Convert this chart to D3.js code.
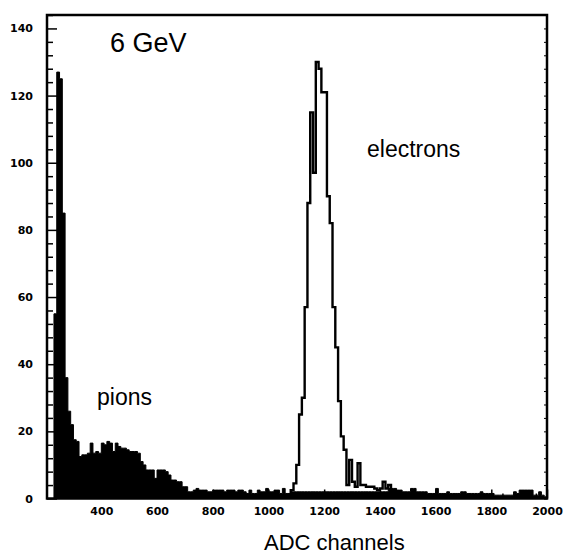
<!DOCTYPE html>
<html><head><meta charset="utf-8">
<script src="https://cdn.jsdelivr.net/npm/d3@7"></script>
<style>body{margin:0;background:#fff}svg{display:block}</style>
</head><body>
<svg id="c" width="566" height="557"></svg>
<script>
// ---- data ----
const binWidth = 10;            // ADC channels per bin
const pionStart = 210;          // first bin lower edge
const pionCounts = [
  0, 0, 55, 127, 125, 85, 36, 26, 22,
  17.5, 17, 12.5, 13, 13, 13.5, 16.5, 13.5, 14, 13.5,
  16.5, 16, 17, 16.5, 14, 16.5, 15.5, 15, 15, 14.5,
  14, 14, 14, 13.5, 11, 10, 8.5, 8.5, 8.5, 6,
  8.5, 8.5, 8.5, 8, 7, 5.5, 5.5, 5, 5, 3.5,
  3.5, 2, 2, 2.5, 3, 2.5, 2.5, 2.5, 2, 2,
  2.5, 2.5, 2.5, 2.5, 2, 2.5, 2.5, 2.5, 2, 2.5,
  2.5, 2, 1.5, 2.5, 1.5, 1.5, 2.5, 2, 2, 3,
  2, 2, 2.5, 2.5, 1.5, 3, 1.5, 1.5, 2, 2,
  2, 2, 2, 2, 2, 2, 2, 2, 2, 2,
  2, 2, 2, 2, 2, 2, 2, 2, 2, 2,
  2, 2, 2, 2, 2, 2, 2, 2, 2, 2,
  2, 2, 2, 3, 3, 3, 2.5, 2.5, 2, 2,
  2, 3, 3, 2, 2, 2, 2, 1.5, 1.5, 1.5,
  3, 1.5, 1.5, 1.5, 2, 1.5, 1.5, 1.5, 1.5, 2,
  2, 1.5, 1.5, 1.5, 1.5, 1.5, 2, 1.5, 1.5, 1.5,
  1.5, 1, 1, 1, 1, 1, 1, 1, 2, 1.5,
  2.5, 2.5, 2.5, 2.5, 2.5, 1, 1, 2, 1, 0.5
];
const electronStart = 1080;
const electronCounts = [
  2.5, 4.5, 10, 25, 30, 57, 88, 115, 97, 130,
  128, 121, 121, 90, 82, 57, 45, 29, 18.5, 14.5,
  4, 11.5, 5, 3.5, 10.5, 4, 4, 3.5, 3.5, 3.5,
  3, 2.5, 3, 5, 3, 4
];
const xDomain = [205, 2000];
const yDomain = [0, 144];
const xTicks = [400, 600, 800, 1000, 1200, 1400, 1600, 1800, 2000];
const xMinorStep = 40;
const yTicks = [0, 20, 40, 60, 80, 100, 120, 140];
const yMinorStep = 4;
const labels = {title: "6 GeV", pions: "pions", electrons: "electrons", xAxis: "ADC channels"};

// ---- drawing ----
const svg = d3.select("#c");
const L = 47, R = 547, T = 15, B = 498.5;
const x = d3.scaleLinear().domain(xDomain).range([L, R]);
const y = d3.scaleLinear().domain(yDomain).range([B, T]);

function histPoints(start, counts) {
  const pts = [[start, 0]];
  counts.forEach((v, i) => pts.push([start + i * binWidth, v]));
  pts.push([start + counts.length * binWidth, 0]);
  return pts;
}

// pions: filled
const area = d3.area().curve(d3.curveStepAfter)
  .x(d => x(d[0])).y0(y(0)).y1(d => y(d[1]));
svg.append("path").attr("d", area(histPoints(pionStart, pionCounts)))
  .attr("fill", "#000").attr("stroke", "#000").attr("stroke-width", 1);

// electrons: outline
const line = d3.line().curve(d3.curveStepAfter).x(d => x(d[0])).y(d => y(d[1]));
svg.append("path").attr("d", line(histPoints(electronStart, electronCounts)))
  .attr("fill", "none").attr("stroke", "#000").attr("stroke-width", 2.4);

// minor ticks
const xMinor = d3.range(240, xDomain[1] + 1, xMinorStep).filter(v => !xTicks.includes(v));
const yMinor = d3.range(0, yDomain[1] + 0.1, yMinorStep).filter(v => !yTicks.includes(v));

const tickFont = g => g.selectAll("text")
  .attr("font-family", "DejaVu Sans").attr("font-weight", "bold").attr("font-size", 11).attr("fill", "#000");

const gx = svg.append("g").attr("transform", `translate(0,${B})`)
  .call(d3.axisBottom(x).tickValues(xTicks).tickSize(-9).tickPadding(9).tickFormat(d3.format("d")));
gx.select(".domain").remove();
gx.selectAll("line").attr("stroke-width", 1.5);
tickFont(gx);

const gxm = svg.append("g").attr("transform", `translate(0,${B})`)
  .call(d3.axisBottom(x).tickValues(xMinor).tickSize(-5).tickFormat(""));
gxm.select(".domain").remove();
gxm.selectAll("line").attr("stroke-width", 1.5);

const gy = svg.append("g").attr("transform", `translate(${L},0)`)
  .call(d3.axisLeft(y).tickValues(yTicks).tickSize(-10).tickPadding(14).tickFormat(d3.format("d")));
gy.select(".domain").remove();
gy.selectAll("line").attr("stroke-width", 1.5);
tickFont(gy);

const gym = svg.append("g").attr("transform", `translate(${L},0)`)
  .call(d3.axisLeft(y).tickValues(yMinor).tickSize(-6).tickFormat(""));
gym.select(".domain").remove();
gym.selectAll("line").attr("stroke-width", 1.5);

// right side small ticks
const gr = svg.append("g").attr("transform", `translate(${R},0)`)
  .call(d3.axisRight(y).tickValues(yMinor.concat(yTicks)).tickSize(-3).tickFormat(""));
gr.select(".domain").remove();
gr.selectAll("line").attr("stroke-width", 1);

// frame
svg.append("rect").attr("x", L).attr("y", T).attr("width", R - L).attr("height", B - T)
  .attr("fill", "none").attr("stroke", "#000").attr("stroke-width", 2.5);

// texts
const txt = (s, tx, ty, size) => svg.append("text").attr("x", tx).attr("y", ty)
  .attr("font-family", "Liberation Sans, Arial, sans-serif").attr("font-size", size)
  .attr("fill", "#000").text(s);
txt(labels.title, 110, 52, 27);
txt(labels.electrons, 367, 157, 23);
txt(labels.pions, 97, 405, 23);
txt(labels.xAxis, 264, 550, 22);
</script>
</body></html>
